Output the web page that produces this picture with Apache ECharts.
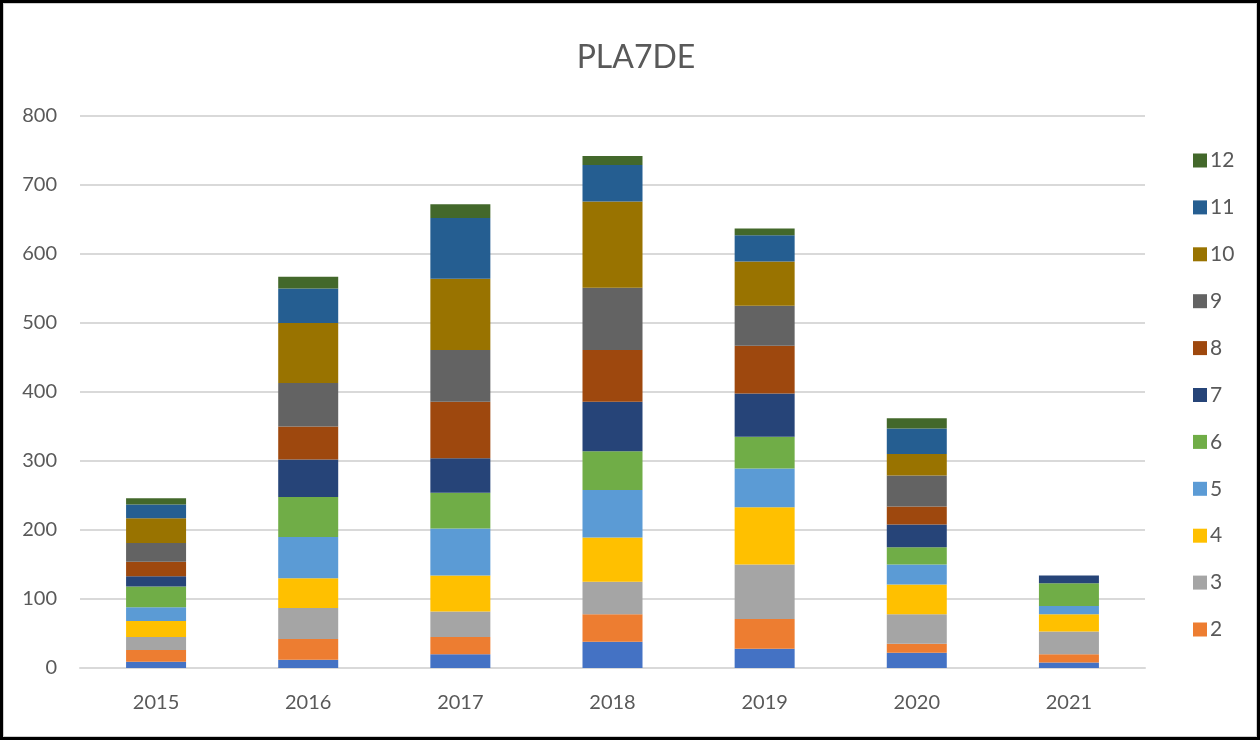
<!DOCTYPE html>
<html>
<head>
<meta charset="utf-8">
<script src="https://cdn.jsdelivr.net/npm/echarts@6/dist/echarts.min.js"></script>
<style>
  html, body { margin: 0; padding: 0; background: #fff; }
  #wrap { position: relative; width: 1260px; height: 740px; }
  #chart { position: absolute; left: 0; top: 0; width: 1260px; height: 740px; }
  #frame { position: absolute; left: 0; top: 0; width: 1260px; height: 740px; box-sizing: border-box;
           border: 3px solid #000; box-shadow: inset 0 0 0 1px #cfcfcf; pointer-events: none; }
</style>
</head>
<body>
<div id="wrap">
  <div id="chart"></div>
  <div id="frame"></div>
</div>
<script>
// years on the x axis
const years = ['2015', '2016', '2017', '2018', '2019', '2020', '2021']
// one array per stacked series (names 1..12)
const s1 = [9, 12, 20, 38, 28, 22, 8]
const s2 = [17, 30, 25, 40, 43, 13, 12]
const s3 = [19, 45, 37, 47, 79, 43, 33]
const s4 = [23, 43, 52, 64, 83, 43, 25]
const s5 = [20, 60, 68, 69, 56, 29, 12]
const s6 = [30, 58, 52, 56, 46, 25, 33]
const s7 = [15, 54, 50, 72, 63, 33, 11]
const s8 = [21, 48, 82, 75, 69, 26, 0]
const s9 = [27, 63, 75, 90, 58, 45, 0]
const s10 = [36, 87, 103, 125, 64, 31, 0]
const s11 = [20, 50, 88, 53, 38, 37, 0]
const s12 = [9, 17, 20, 13, 10, 15, 0]
const seriesNames = ['1', '2', '3', '4', '5', '6', '7', '8', '9', '10', '11', '12']
const seriesData = [s1, s2, s3, s4, s5, s6, s7, s8, s9, s10, s11, s12]
// legend shows 12 down to 2 (1 does not fit)
const legendNames = ['12', '11', '10', '9', '8', '7', '6', '5', '4', '3', '2']
const yTicks = { min: 0, max: 800, step: 100 }

const colors = ['#4472C4', '#ED7D31', '#A5A5A5', '#FFC000', '#5B9BD5', '#70AD47',
  '#264478', '#9E480E', '#636363', '#997300', '#255E91', '#43682B']
const font = 'Lato, "Open Sans", sans-serif'
const textColor = '#595959'

const chart = echarts.init(document.getElementById('chart'))
chart.setOption({
  animation: false,
  color: colors,
  title: {
    text: 'PLA7DE',
    left: 631,
    textAlign: 'center',
    top: 37,
    textStyle: { fontFamily: font, fontSize: 32, fontWeight: 'normal', color: textColor }
  },
  legend: {
    data: legendNames,
    orient: 'vertical',
    left: 1188,
    top: 145,
    itemWidth: 14,
    itemHeight: 14,
    itemGap: 25.9,
    icon: 'rect',
    textStyle: { fontFamily: font, fontSize: 21, color: textColor, lineHeight: 20, padding: [0, 0, 0, -2] }
  },
  grid: { left: 80, right: 115, top: 116, bottom: 72, containLabel: false },
  xAxis: {
    type: 'category',
    data: years,
    axisLine: { lineStyle: { color: '#d9d9d9', width: 2 } },
    axisTick: { show: false },
    axisLabel: { fontFamily: font, fontSize: 20, color: textColor, margin: 25 }
  },
  yAxis: {
    type: 'value',
    min: yTicks.min,
    max: yTicks.max,
    interval: yTicks.step,
    axisLine: { show: false },
    axisTick: { show: false },
    splitLine: { lineStyle: { color: '#d9d9d9', width: 2 } },
    axisLabel: { fontFamily: font, fontSize: 20, color: textColor, margin: 23 }
  },
  series: seriesNames.map((name, i) => ({
    name: name,
    type: 'bar',
    stack: 'total',
    barWidth: 60,
    data: seriesData[i]
  }))
})
</script>
</body>
</html>
